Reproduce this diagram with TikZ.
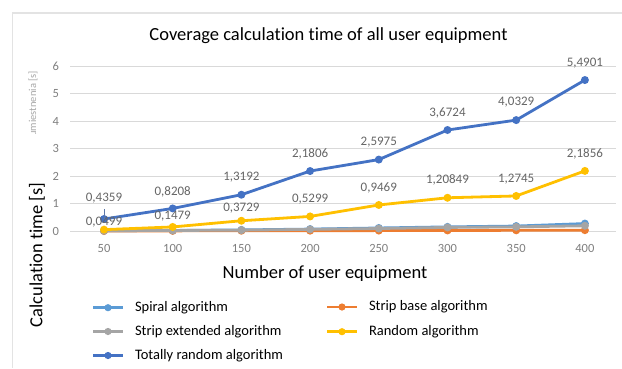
\documentclass[tikz,border=0pt]{standalone}
\usepackage{fontspec}
\setmainfont{Carlito}[Ligatures=NoCommon]
\definecolor{cspiral}{HTML}{5B9BD5}
\definecolor{cbase}{HTML}{ED7D31}
\definecolor{cext}{HTML}{A5A5A5}
\definecolor{crand}{HTML}{FFC000}
\definecolor{ctot}{HTML}{4472C4}
\definecolor{gridc}{HTML}{D9D9D9}
\definecolor{framec}{HTML}{E3E3E3}
\definecolor{tickc}{HTML}{7F7F7F}
\definecolor{labc}{HTML}{666666}
\definecolor{ghostc}{HTML}{A8A8A8}
\begin{document}
\begin{tikzpicture}[x=1pt,y=-1pt,
  every node/.style={inner sep=0pt, outer sep=0pt},
  ser/.style={line width=2.8pt, line join=round, line cap=round},
  dlab/.style={text=labc, font=\fontsize{13}{13}\selectfont},
  ticklab/.style={text=tickc, font=\fontsize{12.5}{12.5}\selectfont},
  axtitle/.style={text=black, font=\fontsize{18.5}{18.5}\selectfont},
  legtext/.style={text=black, anchor=west, font=\fontsize{14.5}{14.5}\selectfont},
  leglin/.style={line width=2.8pt}]
\useasboundingbox (0,0) rectangle (622,368);
\fill[white] (0,0) rectangle (622,368);
% frame
\draw[framec, line width=1.2pt] (12.5,368) -- (12.5,13) -- (622,13);
% title
\node[axtitle] (title) at (328.5,36) {Coverage calculation time of all user equipment};
% ghost axis title
\begin{scope}
  \clip (20,60) rectangle (45,133);
  \node[text=ghostc, rotate=90, anchor=east, font=\fontsize{10.5}{10.5}\selectfont] (ghost) at (33,71) {umiestnenia [s]};
\end{scope}
% grid and y ticks
\foreach \k in {0,...,6} {
  \draw[gridc, line width=1pt] (70,231-27.5*\k) -- (616,231-27.5*\k);
  \node[ticklab, anchor=east] (yt\k) at (59,231-27.5*\k) {\k};
}
% x ticks
\foreach \n [count=\i] in {50,100,150,200,250,300,350,400} {
  \node[ticklab] (xt\i) at (104+68.7*\i-68.7,248) {\n};
}
% axis titles
\node[axtitle] (xtitle) at (325,274) {Number of user equipment};
\node[axtitle, rotate=90] (ytitle) at (37,255) {Calculation time [s]};
% data
\begin{scope}[shift={(35.3pt,-231pt)}, x=68.7pt, y=27.5pt]
  \foreach \v [count=\i] in {0.01,0.02,0.04,0.07,0.11,0.15,0.18,0.27} {\coordinate (sp\i) at (\i,\v);}
  \foreach \v [count=\i] in {0.0,0.005,0.01,0.012,0.015,0.02,0.025,0.03} {\coordinate (sb\i) at (\i,\v);}
  \foreach \v [count=\i] in {0.01,0.02,0.03,0.06,0.09,0.13,0.15,0.19} {\coordinate (se\i) at (\i,\v);}
  \foreach \v [count=\i] in {0.0499,0.1479,0.3729,0.5299,0.9469,1.20849,1.2745,2.1856} {\coordinate (ra\i) at (\i,\v);}
  \foreach \v [count=\i] in {0.4359,0.8208,1.3192,2.1806,2.5975,3.6724,4.0329,5.4901} {\coordinate (tr\i) at (\i,\v);}
\end{scope}
\foreach \s/\c in {sp/cspiral, sb/cbase, se/cext, ra/crand, tr/ctot} {
  \draw[ser, \c] (\s1) \foreach \i in {2,...,8} { -- (\s\i) };
  \foreach \i in {1,...,8} { \fill[\c] (\s\i) circle[radius=4pt]; }
}
% data labels: random
\node[dlab] (lra1) at (104,221.7) {0,0499};
\node[dlab] (lra2) at ([yshift=10.4pt]ra2) {0,1479};
\node[dlab] (lra3) at ([yshift=13pt]ra3) {0,3729};
\node[dlab] (lra4) at ([yshift=17pt]ra4) {0,5299};
\node[dlab] (lra5) at ([yshift=17.5pt]ra5) {0,9469};
\node[dlab] (lra6) at ([yshift=17.5pt]ra6) {1,20849};
\node[dlab] (lra7) at ([yshift=17pt]ra7) {1,2745};
\node[dlab] (lra8) at ([yshift=17pt]ra8) {2,1856};
% data labels: totally random
\node[dlab] (ltr1) at (104,198) {0,4359};
\node[dlab] (ltr2) at ([yshift=17pt]tr2) {0,8208};
\node[dlab] (ltr3) at ([yshift=17.4pt]tr3) {1,3192};
\node[dlab] (ltr4) at ([yshift=17pt]tr4) {2,1806};
\node[dlab] (ltr5) at ([yshift=17pt]tr5) {2,5975};
\node[dlab] (ltr6) at ([yshift=17.3pt]tr6) {3,6724};
\node[dlab] (ltr7) at ([yshift=18pt]tr7) {4,0329};
\node[dlab] (ltr8) at ([yshift=17pt]tr8) {5,4901};
% leader line
\draw[ctot!60!gray, line width=0.8pt] ([yshift=-6pt]ltr1.south) -- (tr1);
% legend
\foreach \nm/\c/\xx/\yy/\t in {
  gsp/cspiral/93/307.7/Spiral algorithm,
  gse/cext/93/331.5/Strip extended algorithm,
  gtr/ctot/93/355.5/Totally random algorithm,
  gsb/cbase/327/307/Strip base algorithm,
  gra/crand/327/331.7/Random algorithm} {
  \coordinate (\nm a) at (\xx,\yy);
  \coordinate (\nm b) at (\xx+30,\yy);
  \coordinate (\nm m) at (\xx+15,\yy);
  \draw[leglin, \c] (\nm a) -- (\nm b);
  \fill[\c] (\nm m) circle[radius=3.6pt];
  \node[legtext] (\nm t) at (\xx+42,\yy) {\t};
}
\end{tikzpicture}
\end{document}
